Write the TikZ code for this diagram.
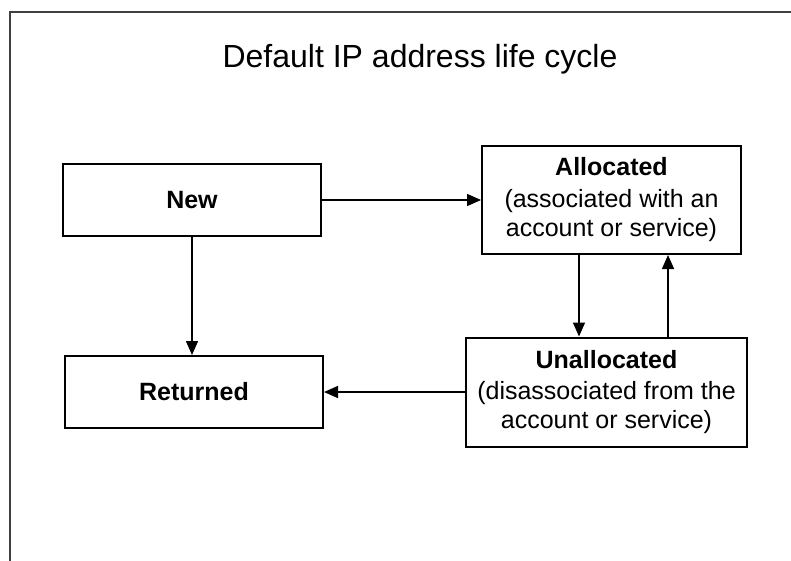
\documentclass[tikz,border=0pt]{standalone}
\usepackage{fontspec}
\setmainfont{Liberation Sans}
\usetikzlibrary{arrows.meta}
\begin{document}
\begin{tikzpicture}[x=1pt,y=-1pt,
  statebox/.style={draw=black, line width=2pt, fill=white, rectangle, align=center,
    inner sep=0pt, font=\fontsize{25}{29}\selectfont},
  arr/.style={line width=1.5pt, -{Triangle[length=14pt,width=12pt]}},
  frame/.style={line width=2.2pt, draw=black!75}]
\useasboundingbox (0,0) rectangle (791,560);
\fill[white] (0,0) rectangle (791,560);
\draw[frame] (10,561) -- (10,12) -- (792,12);
\node (title) at (420,59) {\fontsize{32}{36}\selectfont Default IP address life cycle};
\node[statebox, minimum width=258pt, minimum height=72pt] (new) at (192,200) {\textbf{New}};
\node[statebox, minimum width=259pt, minimum height=108pt] (alloc) at (611.5,200)
  {\textbf{Allocated}\\[3pt](associated with an\\account or service)};
\node[statebox, minimum width=258pt, minimum height=72pt] (ret) at (194,392) {\textbf{Returned}};
\node[statebox, minimum width=281pt, minimum height=109pt] (unalloc) at (606.5,392)
  {\textbf{Unallocated}\\[2pt](disassociated from the\\account or service)};
\draw[arr] (new.east) -- (alloc.west);
\draw[arr] (new.south) -- (new.south |- ret.north);
\draw[arr] ([xshift=-32.5pt]alloc.south) -- ([xshift=-32.5pt]alloc.south |- unalloc.north);
\draw[arr] ([xshift=56.5pt]alloc.south |- unalloc.north) -- ([xshift=56.5pt]alloc.south);
\draw[arr] (unalloc.west) -- (ret.east);
\end{tikzpicture}
\end{document}
